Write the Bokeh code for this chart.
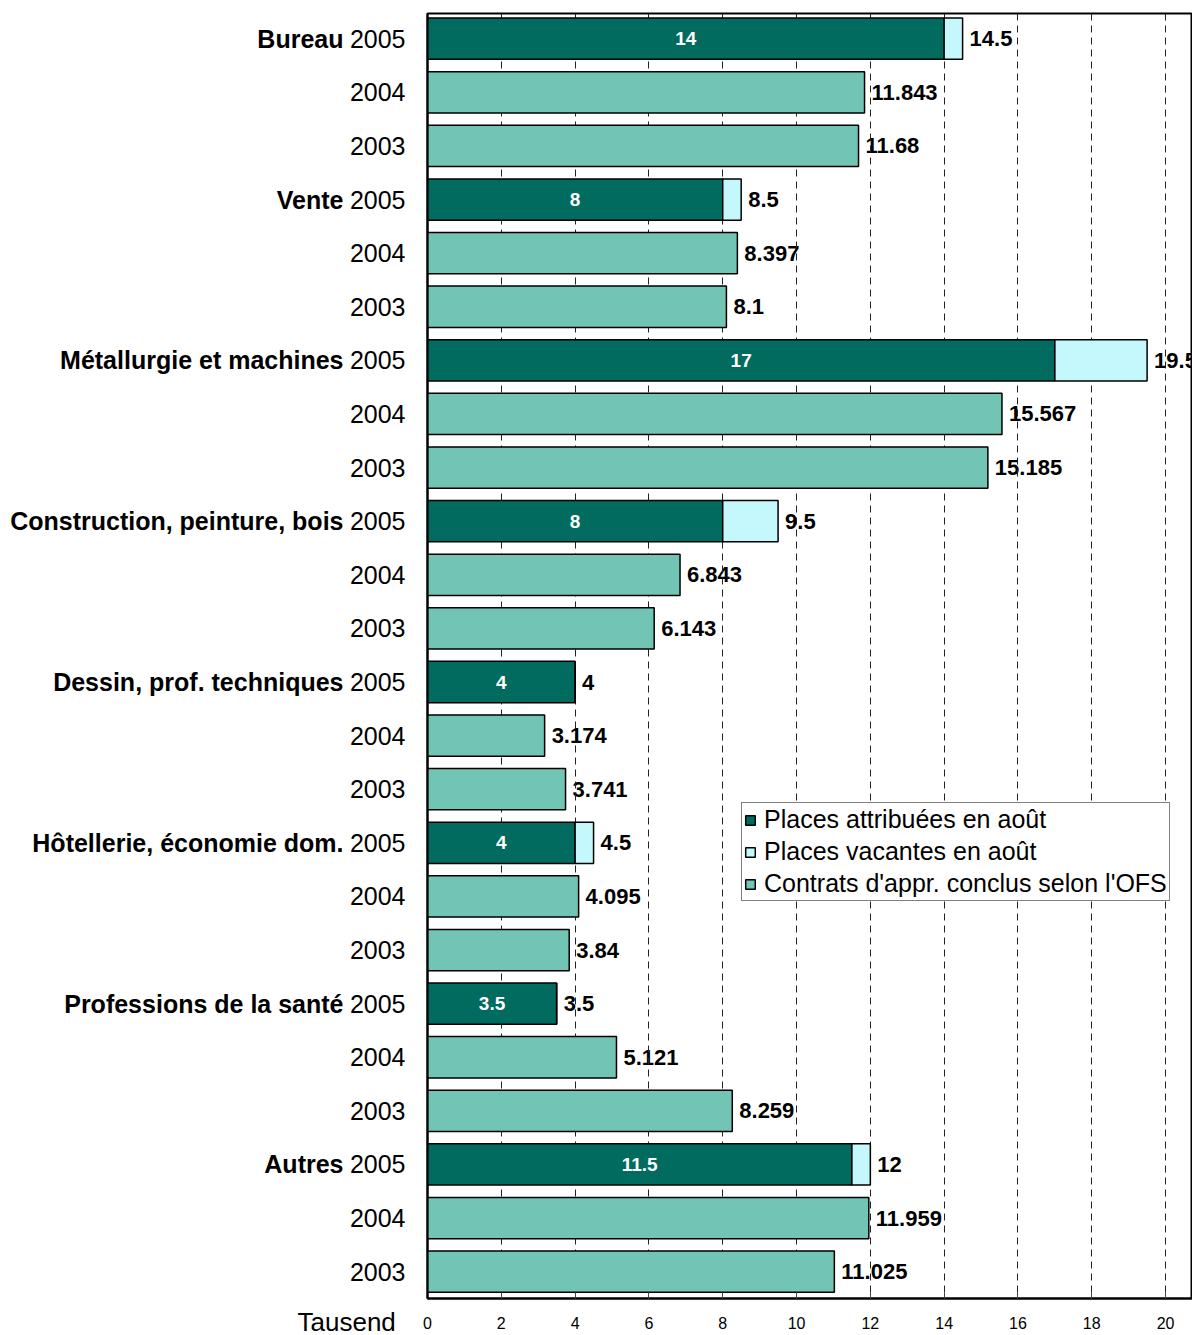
from bokeh.plotting import figure
from bokeh.models import (Range1d, FixedTicker, ColumnDataSource, LabelSet, Title,
                          Legend, LegendItem, LinearAxis)
from bokeh.core.properties import value
from bokeh.embed import file_html
from bokeh.resources import INLINE

categories = ["Bureau", "Vente", "Métallurgie et machines", "Construction, peinture, bois",
              "Dessin, prof. techniques", "Hôtellerie, économie dom.", "Professions de la santé",
              "Autres"]
years = ["2005", "2004", "2003"]
attribuees_2005 = [14, 8, 17, 8, 4, 4, 3.5, 11.5]
total_2005 = [14.5, 8.5, 19.5, 9.5, 4, 4.5, 3.5, 12]
ofs_2004 = [11.843, 8.397, 15.567, 6.843, 3.174, 4.095, 5.121, 11.959]
ofs_2003 = [11.68, 8.1, 15.185, 6.143, 3.741, 3.84, 8.259, 11.025]
x_ticks = [0, 2, 4, 6, 8, 10, 12, 14, 16, 18, 20]
unit_label = "Tausend"

DARK = "#006B5E"
LIGHT = "#C4F8FC"
MID = "#72C4B4"
FONT = "Liberation Sans"

n = len(categories)
rows_2005 = [3 * i for i in range(n)]
rows_2004 = [3 * i + 1 for i in range(n)]
rows_2003 = [3 * i + 2 for i in range(n)]

def fmt(v):
    return "%g" % v

src05 = ColumnDataSource(dict(
    y=rows_2005, att=attribuees_2005, tot=total_2005,
    mid=[a / 2 for a in attribuees_2005],
    att_lbl=[fmt(a) for a in attribuees_2005],
    tot_lbl=[fmt(t) for t in total_2005]))
src_ofs = ColumnDataSource(dict(
    y=rows_2004 + rows_2003, v=ofs_2004 + ofs_2003,
    lbl=[fmt(v) for v in ofs_2004 + ofs_2003]))

W, H = 1192, 1335
p = figure(width=W, height=H, output_backend="svg", toolbar_location=None,
           x_range=Range1d(0, 20.73), y_range=Range1d(23.5, -0.47),
           min_border_left=427, min_border_right=0, min_border_top=13, min_border_bottom=37)
p.outline_line_color = "black"
p.outline_line_width = 2

bh = 0.77
r_att = p.hbar(y="y", left=0, right="att", height=bh, source=src05,
               fill_color=DARK, line_color="black", line_width=1.5)
r_vac = p.hbar(y="y", left="att", right="tot", height=bh, source=src05,
               fill_color=LIGHT, line_color="black", line_width=1.5)
r_ofs = p.hbar(y="y", left=0, right="v", height=bh, source=src_ofs,
               fill_color=MID, line_color="black", line_width=1.5)

# grid
p.xgrid.ticker = FixedTicker(ticks=x_ticks)
p.xgrid.grid_line_color = "#222222"
p.xgrid.grid_line_dash = "7 5"
p.xgrid.grid_line_width = 1
p.ygrid.grid_line_color = None

# x axis
p.xaxis.ticker = FixedTicker(ticks=x_ticks)
p.xaxis.major_tick_in = 6
p.xaxis.major_tick_out = 0
p.xaxis.minor_tick_line_color = None
p.xaxis.major_label_text_font = FONT
p.xaxis.major_label_text_font_size = "16px"
p.xaxis.major_label_text_color = "black"
p.xaxis.major_label_standoff = 18
p.xaxis.axis_line_width = 2
p.xaxis.major_tick_line_color = "#444444"

# inner y axis with years
all_rows = list(range(3 * n))
p.yaxis.ticker = FixedTicker(ticks=all_rows)
p.yaxis.major_label_overrides = {r: years[r % 3] for r in all_rows}
p.yaxis.major_tick_in = 0
p.yaxis.major_tick_out = 0
p.yaxis.minor_tick_line_color = None
p.yaxis.major_label_standoff = 22
p.yaxis.major_label_text_font = FONT
p.yaxis.major_label_text_font_size = "25px"
p.yaxis.major_label_text_color = "black"
p.yaxis.axis_line_width = 2

# outer y axis with category names (bold)
cat_axis = LinearAxis(ticker=FixedTicker(ticks=rows_2005),
                      major_label_overrides={rows_2005[i]: c for i, c in enumerate(categories)},
                      major_tick_in=0, major_tick_out=0, axis_line_color=None,
                      minor_tick_line_color=None, major_label_standoff=3,
                      major_label_text_font=FONT, major_label_text_font_size="25px",
                      major_label_text_font_style="bold", major_label_text_color="black")
p.add_layout(cat_axis, "left")

# unit label
p.add_layout(Title(text=unit_label, align="left", vertical_align="top", offset=-130,
                   standoff=-50, text_font=FONT, text_font_size="26px",
                   text_font_style="normal", text_color="black"), "below")

# value labels
p.add_layout(LabelSet(x="mid", y="y", text="att_lbl", source=src05, text_align="center",
                      text_baseline="middle", text_font=value(FONT), text_font_size="19px",
                      text_font_style="bold", text_color="white"))
p.add_layout(LabelSet(x="tot", y="y", text="tot_lbl", source=src05, x_offset=7,
                      text_align="left", text_baseline="middle", text_font=value(FONT),
                      text_font_size="22px", text_font_style="bold", text_color="black",
                      level="image"))
p.add_layout(LabelSet(x="v", y="y", text="lbl", source=src_ofs, x_offset=7,
                      text_align="left", text_baseline="middle", text_font=value(FONT),
                      text_font_size="22px", text_font_style="bold", text_color="black",
                      level="image"))

legend = Legend(items=[
    LegendItem(label="Places attribuées en août", renderers=[r_att]),
    LegendItem(label="Places vacantes en août", renderers=[r_vac]),
    LegendItem(label="Contrats d'appr. conclus selon l'OFS", renderers=[r_ofs]),
], location=(314, 397))
legend.label_text_font = FONT
legend.label_text_font_size = "25px"
legend.label_text_color = "black"
legend.glyph_width = 12
legend.glyph_height = 12
legend.label_standoff = 8
legend.spacing = 3
legend.padding = 2
legend.margin = 0
legend.border_line_color = "black"
legend.border_line_width = 1.5
legend.background_fill_alpha = 1
p.add_layout(legend)

open("out.html", "w").write(file_html(p, INLINE))
